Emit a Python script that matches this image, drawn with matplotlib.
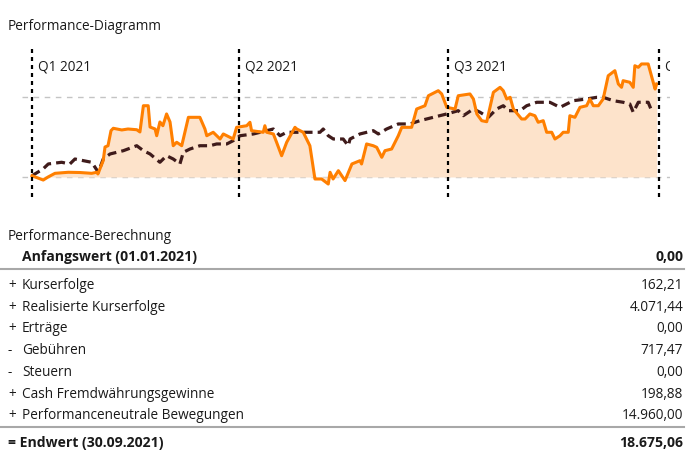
#performance chart + performance table (Q1-Q3 2021)
import matplotlib
matplotlib.use('Agg')
import matplotlib.pyplot as plt
from matplotlib.lines import Line2D

plt.rcParams['font.family'] = ['Open Sans', 'DejaVu Sans']

W, H = 694, 460
txt_col = '#1a1a1a'
fs = 9.8
fs_b = 10.1

# portfolio performance in % (day of year 2021)
port_day = [0, 2.6, 4.9, 7.0, 10.0, 15.8, 20.9, 26.0, 28.2, 28.7, 31.0, 31.8, 33.1, 34.4, 35.4,
            39.1, 41.8, 45.6, 47.0, 48.5, 50.6, 51.4, 53.6, 54.3, 55.7, 57.0, 58.6, 60.1, 61.5,
            63.0, 65.2, 68.1, 73.1, 75.3, 76.1, 78.9, 81.9, 83.3, 86.2, 87.6, 89.1, 93.5, 94.9,
            95.6, 100.7, 101.4, 102.2, 105.1, 106.5, 108.7, 110.9, 114.5, 115.3, 118.1, 121.0,
            123.2, 126.1, 129.0, 129.8, 131.1, 133.4, 136.3, 139.3, 142.8, 143.5, 145.7, 148.6,
            150.1, 152.3, 153.7, 156.6, 159.5, 161.0, 165.3, 167.5, 171.1, 172.6, 176.9, 178.4,
            180.6, 184.2, 185.6, 190.7, 192.2, 193.7, 195.8, 198.0, 200.9, 203.8, 205.2, 206.7,
            208.2, 209.6, 213.2, 214.7, 216.8, 219.0, 220.4, 222.6, 224.1, 226.3, 227.7, 229.9,
            231.3, 233.5, 234.2, 236.4, 238.6, 241.5, 242.9, 244.4, 246.6, 248.7, 250.9, 253.8,
            255.3, 256.7, 257.4, 260.3, 261.8, 262.5, 264.0, 265.4, 268.3, 271.3, 272.0]
port_val = [0.16, -0.13, -0.38, 0.0, 0.46, 0.59, 0.56, 0.46, 0.59, 0.38, 2.04, 3.75, 3.91, 5.79, 6.09,
            5.88, 6.0, 5.91, 5.63, 8.91, 8.91, 6.25, 6.0, 5.16, 6.88, 6.41, 7.88, 6.88, 3.91,
            4.34, 3.91, 7.46, 7.46, 6.0, 5.16, 5.59, 4.75, 5.38, 4.96, 4.75, 6.21, 6.41, 6.84,
            5.79, 5.59, 6.41, 5.59, 5.38, 4.34, 2.66, 4.34, 6.21, 6.0, 5.59, 3.91,
            -0.25, -0.25, -0.88, 0.59, -0.25, 0.79, -0.45, 1.63, 2.04, 1.63, 4.13, 3.91,
            3.71, 2.46, 3.29, 3.5, 5.16, 6.21, 6.21, 8.5, 8.91, 10.16, 10.79, 10.38,
            8.71, 8.5, 10.16, 10.38, 9.75, 7.88, 7.04, 6.91, 10.59, 11.21, 10.79, 9.75,
            9.96, 8.5, 7.25, 7.25, 7.88, 7.66, 6.84, 7.04, 5.59, 5.59, 4.75, 5.16,
            5.59, 5.59, 7.66, 7.46, 8.71, 8.91, 9.75, 8.91, 8.91, 9.75, 12.66, 13.29,
            11.63, 11.21, 12.04, 11.84, 11.21, 13.91, 13.71, 14.13, 14.13, 11.0, 11.63]

# benchmark performance in %
bench_day = [0, 4.8, 7.1, 12.9, 16.5, 18.7, 23.8, 26.0, 28.9, 31.0, 34.0, 39.8, 45.6, 48.5, 51.4,
             55.7, 58.6, 61.5, 64.4, 65.9, 68.8, 73.1, 77.5, 80.4, 84.8, 87.6, 90.6, 96.4, 102.2,
             105.1, 108.0, 110.9, 115.3, 119.6, 125.4, 126.8, 129.0, 131.2, 135.5, 137.7, 138.5,
             142.8, 148.6, 150.8, 154.4, 159.5, 164.6, 168.9, 174.7, 180.6, 185.6, 187.8, 192.2,
             195.1, 198.7, 202.3, 205.2, 207.4, 212.5, 215.4, 219.8, 225.5, 228.5, 229.9, 235.7,
             241.5, 245.9, 248.7, 253.1, 257.4, 260.3, 261.8, 264.0, 268.3, 269.8, 270.5]
bench_val = [0.16, 1.0, 1.63, 1.84, 1.63, 2.25, 1.96, 1.84, 0.59, 2.25, 2.88, 3.29, 3.91, 3.29, 2.88,
             1.84, 2.66, 2.25, 1.63, 3.09, 3.5, 3.91, 3.91, 4.13, 4.13, 4.54, 5.16, 5.38, 5.79,
             6.0, 5.16, 5.59, 5.59, 5.59, 5.59, 6.0, 5.16, 4.75, 4.75, 3.91, 4.75,
             5.38, 5.79, 5.38, 6.0, 6.63, 6.63, 7.04, 7.46, 7.88, 8.29, 7.66, 8.5,
             8.09, 7.46, 8.5, 8.91, 8.29, 8.29, 8.91, 9.34, 9.34, 8.91, 8.71, 9.54,
             9.75, 9.96, 9.96, 9.54, 9.34, 9.13, 8.09, 9.34, 9.34, 8.29, 8.5]

quarter_day = [0, 90, 181, 273]
quarter_lbl = ['Q1 2021', 'Q2 2021', 'Q3 2021', 'Q4 2021']
grid_vals = [0, 10]

prefixes = ['+', '+', '+', '-', '-', '+', '+']
labels = ['Kurserfolge', 'Realisierte Kurserfolge', 'Erträge', 'Gebühren', 'Steuern',
          'Cash Fremdwährungsgewinne', 'Performanceneutrale Bewegungen']
values = ['162,21', '4.071,44', '0,00', '717,47', '0,00', '198,88', '14.960,00']
start_lbl, start_val = 'Anfangswert (01.01.2021)', '0,00'
end_lbl, end_val = '= Endwert (30.09.2021)', '18.675,06'


def fx(px):
    return px / W


def fy(py):
    return 1 - py / H


fig = plt.figure(figsize=(W / 100, H / 100), dpi=100)

ax = fig.add_axes([fx(22), fy(198), fx(648), 150 / H])
ax.set_xlim(-4.35, 277.8)
ax.set_ylim(-2.5, 16.25)
ax.axis('off')

for g in grid_vals:
    ax.axhline(g, color='#c4c4c4', linewidth=1, linestyle=(0, (4, 4)), zorder=1)

ax.fill_between(port_day, port_val, 0, color='#fde3cb', linewidth=0, zorder=2)
ax.plot(bench_day, bench_val, color='#3f1b1b', linewidth=2.3, linestyle=(0, (2.8, 1.6)), zorder=3)
ax.plot(port_day, port_val, color='#ff7f00', linewidth=2.2, zorder=4)

for q, lbl in zip(quarter_day, quarter_lbl):
    ax.axvline(q, color='black', linewidth=1.6, linestyle=(0, (1.8, 1.8)), zorder=5)
    ax.text(q + 2.6, 0.873, lbl, transform=ax.get_xaxis_transform(), fontsize=fs,
            color=txt_col, va='center', ha='left', clip_on=True)

fig.text(fx(8), fy(27), 'Performance-Diagramm', fontsize=fs, color=txt_col, va='center')

# table
fig.text(fx(8), fy(237), 'Performance-Berechnung', fontsize=fs, color=txt_col, va='center')
fig.text(fx(22), fy(257), start_lbl, fontsize=fs_b, weight='bold', color=txt_col, va='center')
fig.text(fx(683), fy(257), start_val, fontsize=fs_b, weight='bold', color=txt_col, va='center', ha='right')

for ly in [269.5, 428]:
    fig.add_artist(Line2D([0, fx(684)], [fy(ly), fy(ly)], color='#a8a8a8', linewidth=1.5))

for i, (p, l, v) in enumerate(zip(prefixes, labels, values)):
    y = fy(285.5 + i * 21.75)
    fig.text(fx(8), y, p, fontsize=fs, color=txt_col, va='center')
    fig.text(fx(22), y, l, fontsize=fs, color=txt_col, va='center')
    fig.text(fx(683), y, v, fontsize=fs, color=txt_col, va='center', ha='right')

fig.text(fx(8), fy(443), end_lbl, fontsize=fs_b, weight='bold', color=txt_col, va='center')
fig.text(fx(683), fy(443), end_val, fontsize=fs_b, weight='bold', color=txt_col, va='center', ha='right')

fig.savefig('out.png', dpi=100)
